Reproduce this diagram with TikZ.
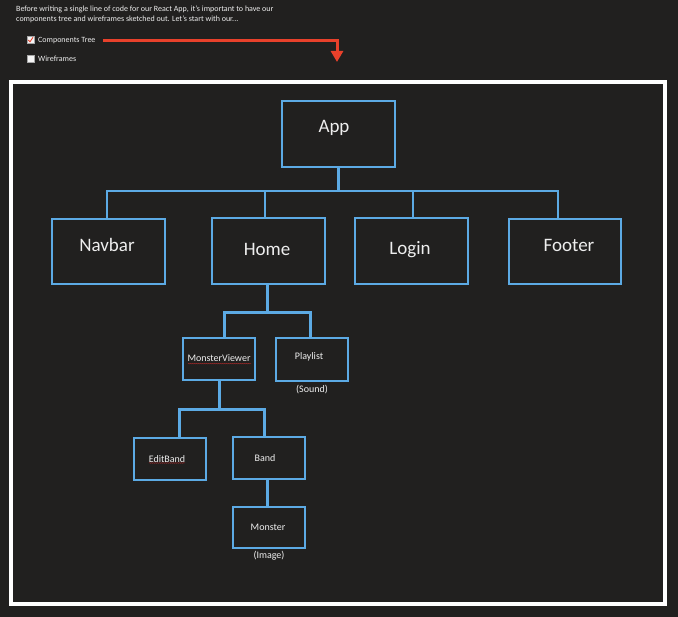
\documentclass[tikz,border=0pt]{standalone}
\usepackage{fontspec}
\setmainfont{Carlito}
\usetikzlibrary{arrows.meta,decorations.pathmorphing}
\definecolor{bg}{RGB}{33,32,31}
\definecolor{boxblue}{RGB}{92,170,228}
\definecolor{txt}{RGB}{238,238,238}
\definecolor{arrred}{RGB}{232,65,43}
\definecolor{spellred}{RGB}{150,40,40}
\begin{document}
\begin{tikzpicture}[x=1pt,y=-1pt,
  box/.style={draw=boxblue,line width=1.3pt,inner sep=0pt},
  bigbox/.style={box,minimum width=113pt,minimum height=66pt},
  smallbox/.style={box,minimum width=72pt,minimum height=42pt},
  bigt/.style={text=txt,font=\fontsize{19}{22}\selectfont,inner sep=0pt},
  smallt/.style={text=txt,font=\fontsize{10}{12}\selectfont,inner sep=0pt},
  headt/.style={text=txt,font=\fontsize{8}{9.6}\selectfont,inner sep=0pt,anchor=base west},
  chkt/.style={text=txt,font=\fontsize{8}{10}\selectfont,inner sep=0pt,anchor=base west},
  chk/.style={draw=gray!70,fill=white!92!gray,line width=0.5pt,minimum size=7pt,inner sep=0pt},
  tree/.style={draw=boxblue,line width=2pt},
  tree2/.style={draw=boxblue,line width=3pt},
  spell/.style={draw=spellred,line width=0.5pt,decorate,decoration={snake,amplitude=0.35pt,segment length=2pt}}]
\fill[bg] (0,0) rectangle (678,617);
\useasboundingbox (0,0) rectangle (678,617);

% header
\node[headt] (h1) at (16,11.8) {Before writing a single line of code for our React App, it's important to have our};
\node[headt] (h2) at (16,21.8) {components tree and wireframes sketched out. Let's start with our...};
\node[chk] (cb1) at (30.5,39.5) {};
\draw[arrred,line width=0.8pt] (28.3,40) -- (30,41.8) -- (33,37.3);
\node[chkt] (ct) at (38,42.2) {Components Tree};
\node[chk] (cb2) at (30.5,58.5) {};
\node[chkt] (wf) at (38,61.2) {Wireframes};
\coordinate (arrS) at (103,41);
\coordinate (arrE) at (337,62);
\draw[arrred,line width=3pt,-{Triangle[width=12pt,length=11pt]}] (arrS) -| (arrE);

% frame
\draw[white,line width=4pt] (11,82) rectangle (664.5,604);

% boxes
\node[bigbox] (app) at (338.5,134) {};
\node[bigbox,minimum height=65pt] (navbar) at (108.5,251.5) {};
\node[bigbox] (home) at (268.5,251) {};
\node[bigbox] (login) at (411.5,251) {};
\node[bigbox,minimum width=112pt,minimum height=65pt] (footer) at (565,251.5) {};
\node[smallbox] (mv) at (219,359) {};
\node[smallbox,minimum height=43pt] (playlist) at (312,359.5) {};
\node[smallbox] (editband) at (170,459) {};
\node[smallbox] (band) at (269,458) {};
\node[smallbox,minimum height=41pt] (monster) at (269,527.5) {};

% labels
\node[bigt] (appT) at (334,127.5) {App};
\node[bigt] (navbarT) at (107,245) {Navbar};
\node[bigt] (homeT) at (267,249) {Home};
\node[bigt] (loginT) at (410,249.5) {Login};
\node[bigt] (footerT) at (569,245) {Footer};
\node[smallt] (mvT) at (219,358) {MonsterViewer};
\node[smallt] (plT) at (309,356.5) {Playlist};
\node[smallt] (soundT) at (312,390) {(Sound)};
\node[smallt] (ebT) at (167,459) {EditBand};
\node[smallt] (bandT) at (265,458) {Band};
\node[smallt] (monT) at (268,527) {Monster};
\node[smallt] (imgT) at (269,556) {(Image)};
\draw[spell] (188,363.6) -- (251,363.6);
\draw[spell] (149,463) -- (185,463);

% connectors level 1
\coordinate (b1) at (0,191);
\coordinate (nd) at ([xshift=-1.5pt]navbar.north);
\coordinate (hd) at ([xshift=-3.5pt]home.north);
\coordinate (ld) at ([xshift=1.5pt]login.north);
\coordinate (fd) at ([xshift=-7pt]footer.north);
\draw[tree,line width=3pt] (app.south) -- (app.south |- b1);
\draw[tree] (nd) |- (fd |- b1) -- (fd);
\draw[tree] (hd) -- (hd |- b1);
\draw[tree] (ld) -- (ld |- b1);

% level 2
\coordinate (b2) at (0,313);
\coordinate (hs) at ([xshift=-1.5pt]home.south);
\coordinate (mvd) at ([xshift=5pt]mv.north);
\coordinate (pd) at ([xshift=-2pt]playlist.north);
\draw[tree2] (hs) -- (hs |- b2);
\draw[tree2] (mvd) |- (pd |- b2) -- (pd);

% level 3
\coordinate (b3) at (0,410);
\coordinate (ed) at ([xshift=9pt]editband.north);
\coordinate (bd) at ([xshift=-5pt]band.north);
\draw[tree2] (mv.south) -- (mv.south |- b3);
\draw[tree2] (ed) |- (bd |- b3) -- (bd);
\coordinate (bs) at ([xshift=-2pt]band.south);
\draw[tree2] (bs) -- (bs |- monster.north);
\end{tikzpicture}
\end{document}
